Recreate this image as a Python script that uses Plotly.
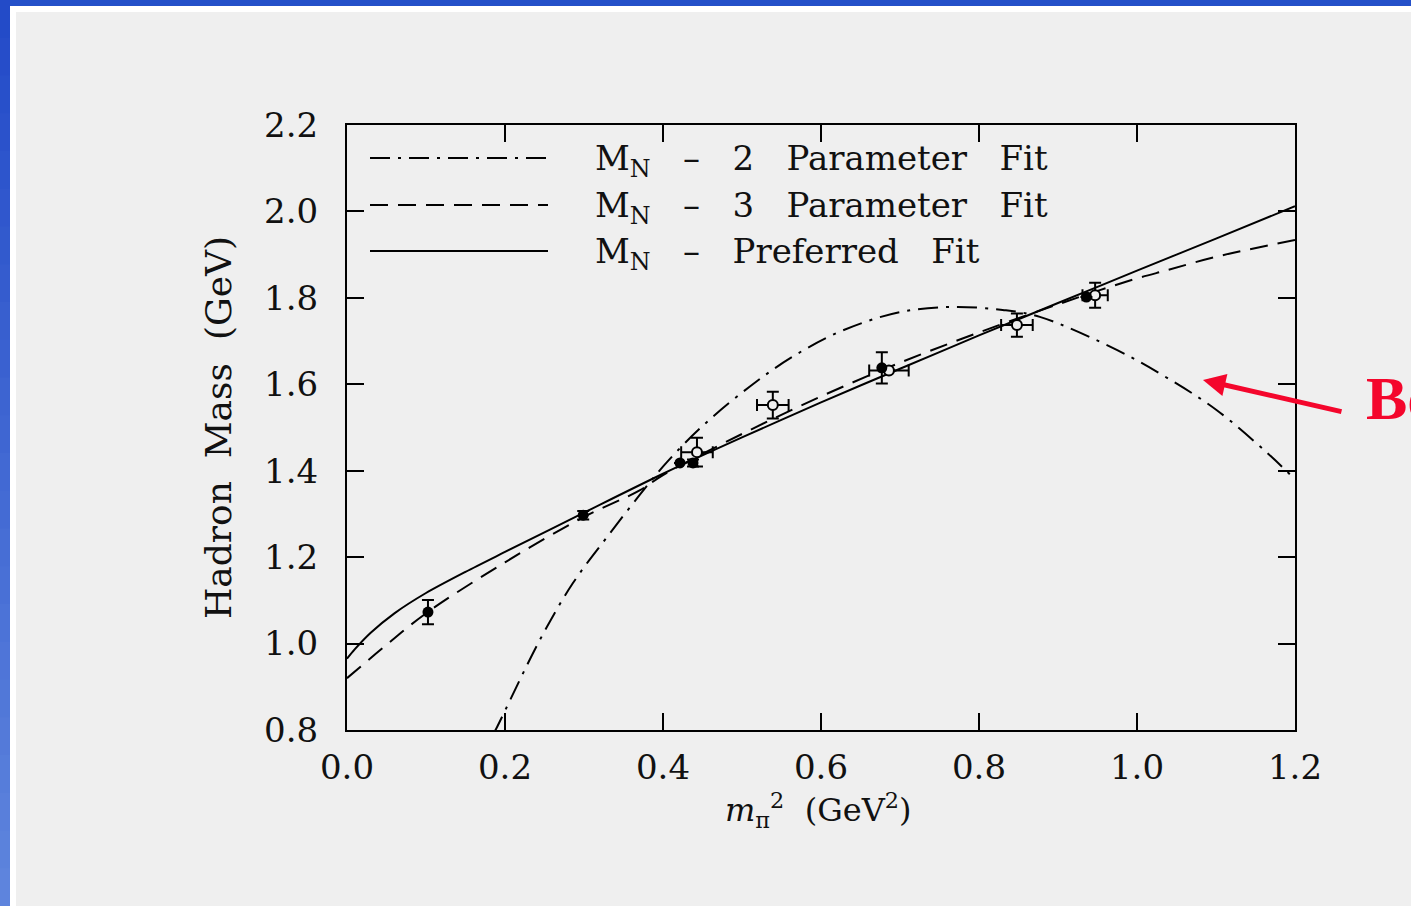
import plotly.graph_objects as go

# ---------------- data ----------------
x_ticks = [0.0, 0.2, 0.4, 0.6, 0.8, 1.0, 1.2]
y_ticks = [0.8, 1.0, 1.2, 1.4, 1.6, 1.8, 2.0, 2.2]

# M_N - 2 Parameter Fit (dash-dot)
x_fit2 = [0.185, 0.19, 0.244, 0.286, 0.329, 0.371, 0.405, 0.451, 0.51, 0.565,
          0.628, 0.70, 0.767, 0.83, 0.877, 0.975, 1.038, 1.101, 1.165, 1.2]
y_fit2 = [0.79, 0.807, 1.008, 1.14, 1.246, 1.345, 1.42, 1.505, 1.595, 1.665,
          1.725, 1.767, 1.779, 1.772, 1.756, 1.679, 1.615, 1.54, 1.441, 1.38]

# M_N - 3 Parameter Fit (dashed)
x_fit3 = [0.0, 0.05, 0.1, 0.2, 0.3, 0.371, 0.4, 0.5, 0.6, 0.7, 0.8, 0.9, 0.953, 1.0, 1.038, 1.1, 1.2]
y_fit3 = [0.92, 0.997, 1.07, 1.188, 1.293, 1.355, 1.39, 1.485, 1.572, 1.65, 1.72, 1.785, 1.818, 1.845, 1.864, 1.895, 1.934]

# M_N - Preferred Fit (solid)
x_pref = [0.0, 0.01, 0.03, 0.06, 0.1, 0.15, 0.2, 0.3, 0.4, 0.5, 0.6, 0.7, 0.8, 0.9, 1.0, 1.1, 1.2]
y_pref = [0.965, 0.987, 1.025, 1.07, 1.117, 1.166, 1.212, 1.303, 1.393, 1.477, 1.558, 1.636, 1.713, 1.788, 1.863, 1.937, 2.012]

# filled points
x_fill = [0.1025, 0.299, 0.4215, 0.438, 0.677, 0.936]
y_fill = [1.073, 1.297, 1.418, 1.418, 1.638, 1.802]
yerr_fill = [0.028, 0.01, 0.0, 0.008, 0.036, 0.0]

# open points
x_open = [0.443, 0.539, 0.686, 0.848, 0.947]
y_open = [1.443, 1.552, 1.632, 1.737, 1.806]
xerr_open = [0.02, 0.02, 0.025, 0.02, 0.016]
yerr_open = [0.033, 0.031, 0.0, 0.027, 0.029]

SP = "\u00a0"
legend_labels = ["M<sub>N</sub>" + SP * 3 + "\u2013" + SP * 3 + "2" + SP * 3 + "Parameter" + SP * 3 + "Fit",
                 "M<sub>N</sub>" + SP * 3 + "\u2013" + SP * 3 + "3" + SP * 3 + "Parameter" + SP * 3 + "Fit",
                 "M<sub>N</sub>" + SP * 3 + "\u2013" + SP * 3 + "Preferred" + SP * 3 + "Fit"]
legend_dashes = ["20px,8px,3px,8px", "18px,10px", "solid"]

x_title = "<i>m</i><sub>\u03c0</sub><sup>2</sup>" + SP * 2 + "(GeV<sup>2</sup>)"
y_title = "Hadron" + SP * 2 + "Mass" + SP * 2 + "(GeV)"

# ---------------- layout geometry ----------------
W, H = 1411, 906
L, R, T, B = 347, 1295, 125, 730
BG = "#efefef"
FONT = "DejaVu Serif"


def px_x(p):
    return (p - L) / (R - L)


def px_y(p):
    return (B - p) / (B - T)


fig = go.Figure()

fig.add_trace(go.Scatter(x=x_fit2, y=y_fit2, mode="lines", showlegend=False,
                         line=dict(color="black", width=2, dash=legend_dashes[0],
                                   shape="spline", smoothing=1.0)))
fig.add_trace(go.Scatter(x=x_fit3, y=y_fit3, mode="lines", showlegend=False,
                         line=dict(color="black", width=2, dash=legend_dashes[1],
                                   shape="spline", smoothing=1.0)))
fig.add_trace(go.Scatter(x=x_pref, y=y_pref, mode="lines", showlegend=False,
                         line=dict(color="black", width=2, shape="spline", smoothing=0.8)))

fig.add_trace(go.Scatter(x=x_open, y=y_open, mode="markers", showlegend=False,
                         marker=dict(symbol="circle", size=10, color=BG,
                                     line=dict(color="black", width=2)),
                         error_x=dict(type="data", array=xerr_open, color="black",
                                      thickness=2, width=6),
                         error_y=dict(type="data", array=yerr_open, color="black",
                                      thickness=2, width=6)))
fig.add_trace(go.Scatter(x=x_fill, y=y_fill, mode="markers", showlegend=False,
                         marker=dict(symbol="circle", size=11, color="black"),
                         error_y=dict(type="data", array=yerr_fill, color="black",
                                      thickness=2, width=6)))

shapes = []
# blue frame: top bar and left bar with a vertical gradient
shapes.append(dict(type="rect", xref="paper", yref="paper", layer="below",
                   x0=px_x(0), x1=px_x(W), y0=px_y(0), y1=px_y(6),
                   fillcolor="#2450c9", line=dict(width=0)))
shapes.append(dict(type="rect", xref="paper", yref="paper", layer="below",
                   x0=px_x(10), x1=px_x(W), y0=px_y(6), y1=px_y(12),
                   fillcolor="white", line=dict(width=0)))
shapes.append(dict(type="rect", xref="paper", yref="paper", layer="below",
                   x0=px_x(10), x1=px_x(16), y0=px_y(6), y1=px_y(H),
                   fillcolor="white", line=dict(width=0)))
nb = 24
c0 = (0x23, 0x4b, 0xc8)
c1 = (0x5e, 0x84, 0xdd)
for i in range(nb):
    t = i / (nb - 1)
    c = tuple(int(round(c0[k] + (c1[k] - c0[k]) * t)) for k in range(3))
    shapes.append(dict(type="rect", xref="paper", yref="paper", layer="below",
                       x0=px_x(0), x1=px_x(10),
                       y0=px_y(H * i / nb), y1=px_y(H * (i + 1) / nb + 1),
                       fillcolor="rgb(%d,%d,%d)" % c, line=dict(width=0)))

# legend sample lines
leg_y = [158, 205, 251]
for yy, d in zip(leg_y, legend_dashes):
    shapes.append(dict(type="line", xref="paper", yref="paper", layer="above",
                       x0=px_x(370), x1=px_x(548), y0=px_y(yy), y1=px_y(yy),
                       line=dict(color="black", width=2, dash=d)))

annotations = []
for yy, lab in zip(leg_y, legend_labels):
    annotations.append(dict(xref="paper", yref="paper", x=px_x(593), y=px_y(yy + 2),
                            xanchor="left", yanchor="middle", showarrow=False,
                            text=lab, font=dict(family=FONT, size=34, color="#111")))

# x-axis title placed as annotation
annotations.append(dict(xref="paper", yref="paper", x=px_x(818), y=px_y(810),
                        xanchor="center", yanchor="middle", showarrow=False,
                        text=x_title, font=dict(family=FONT, size=32, color="#111")))

# red arrow and (clipped, as in the reference) red text
annotations.append(dict(x=1.0835, y=1.61, xref="x", yref="y", text="",
                        showarrow=True, ax=140, ay=32, axref="pixel", ayref="pixel",
                        arrowhead=2, arrowsize=0.9, arrowwidth=5, arrowcolor="#f4062c"))
annotations.append(dict(xref="paper", yref="paper", x=px_x(1364), y=px_y(398),
                        xanchor="left", yanchor="middle", showarrow=False,
                        text="<b>Bo</b>", font=dict(family="Liberation Serif", size=62,
                                                   color="#f4062c")))

fig.update_layout(
    width=W, height=H,
    margin=dict(l=L, r=W - R, t=T, b=H - B, pad=0),
    paper_bgcolor=BG, plot_bgcolor=BG,
    shapes=shapes, annotations=annotations,
    showlegend=False,
    font=dict(family=FONT, color="#111"),
)

axis_common = dict(showline=True, linecolor="black", linewidth=2, mirror="ticks",
                   ticks="inside", ticklen=17, tickwidth=2, tickcolor="black",
                   showgrid=False, zeroline=False,
                   tickfont=dict(family=FONT, size=34, color="#111"))

fig.update_xaxes(range=[0, 1.2], tickvals=x_ticks, tickformat=".1f",
                 ticklabelstandoff=6, **axis_common)
fig.update_yaxes(range=[0.8, 2.2], tickvals=y_ticks, tickformat=".1f",
                 ticklabelstandoff=20,
                 title=dict(text=y_title,
                            font=dict(family=FONT, size=36, color="#111"), standoff=22),
                 **axis_common)

fig.write_html("out.html")
